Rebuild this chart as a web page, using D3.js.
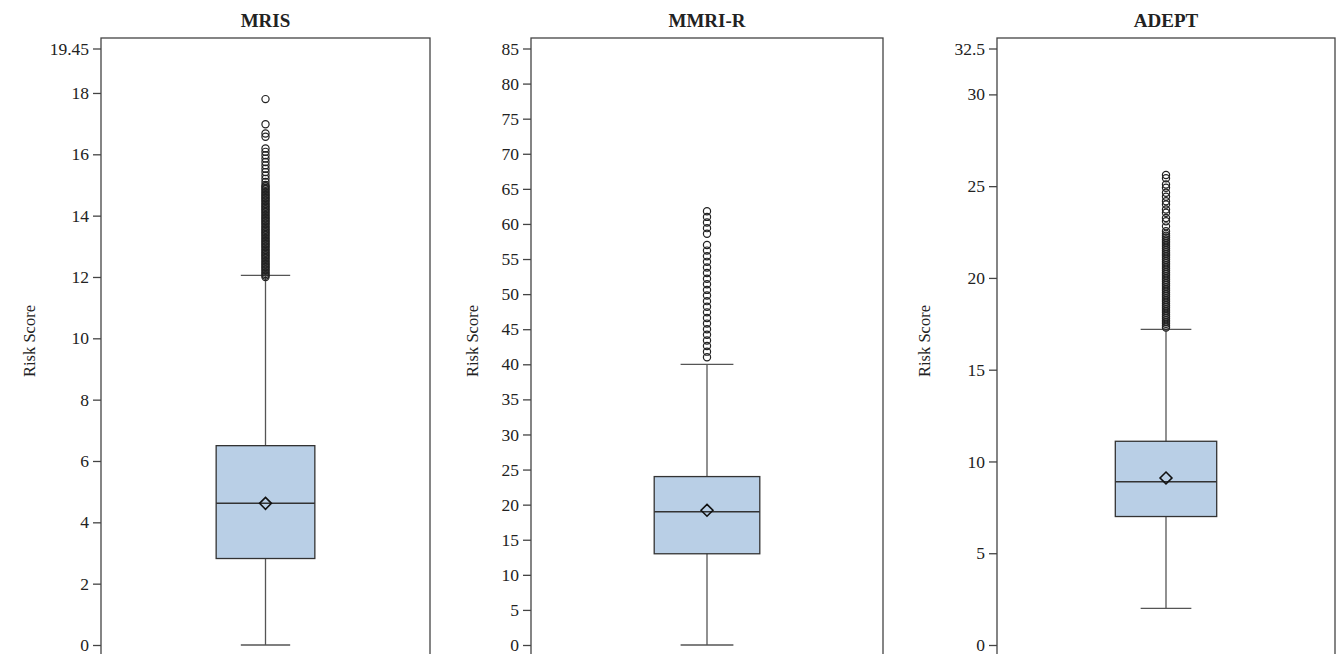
<!DOCTYPE html>
<html>
<head>
<meta charset="utf-8">
<script src="https://cdn.jsdelivr.net/npm/d3@7"></script>
<style>
  body { margin: 0; background: #fff; }
  text { font-family: "Liberation Serif", "Times New Roman", serif; fill: #222; }
</style>
</head>
<body>
<svg id="chart" width="1342" height="654"></svg>
<script>
// data
const panelNames  = ["MRIS", "MMRI-R", "ADEPT"];
const axisMax     = [19.45, 85, 32.5];
const tickValues  = [
  [0, 2, 4, 6, 8, 10, 12, 14, 16, 18, 19.45],
  [0, 5, 10, 15, 20, 25, 30, 35, 40, 45, 50, 55, 60, 65, 70, 75, 80, 85],
  [0, 5, 10, 15, 20, 25, 30, 32.5]
];
const whiskerLow  = [0, 0, 2];
const q1          = [2.82, 13, 7.0];
const medians     = [4.62, 19, 8.9];
const means       = [4.62, 19.2, 9.1];
const q3          = [6.5, 24, 11.1];
const whiskerHigh = [12.05, 40, 17.2];

const mrisOutliers = [
  12.0, 12.05, 12.1, 12.15, 12.2, 12.25, 12.3, 12.35, 12.4, 12.45,
  12.5, 12.55, 12.6, 12.65, 12.7, 12.75, 12.8, 12.85, 12.9, 12.95,
  13.0, 13.05, 13.1, 13.15, 13.2, 13.25, 13.3, 13.35, 13.4, 13.45,
  13.5, 13.55, 13.6, 13.65, 13.7, 13.75, 13.8, 13.85, 13.9, 13.95,
  14.0, 14.05, 14.1, 14.15, 14.2, 14.25, 14.3, 14.35, 14.4, 14.45,
  14.5, 14.55, 14.6, 14.65, 14.7, 14.75, 14.8, 14.85, 14.9, 14.95, 15.0,
  15.1, 15.2, 15.31, 15.42, 15.53, 15.64, 15.75, 15.86, 15.97, 16.08, 16.19,
  16.57, 16.68, 16.98, 17.8
];
const mmriOutliers = [
  41, 41.8, 42.6, 43.4, 44.2, 45, 45.8, 46.6, 47.4, 48.2, 49, 49.8, 50.6,
  51.4, 52.2, 53, 53.8, 54.6, 55.4, 56.2, 57,
  58.6, 59.4, 60.2, 61, 61.8
];
const adeptOutliers = [
  17.3, 17.4, 17.5, 17.6, 17.7, 17.8, 17.9, 18.0, 18.1, 18.2, 18.3, 18.4,
  18.5, 18.6, 18.7, 18.8, 18.9, 19.0, 19.1, 19.2, 19.3, 19.4, 19.5, 19.6,
  19.7, 19.8, 19.9, 20.0, 20.1, 20.2, 20.3, 20.4, 20.5, 20.6, 20.7, 20.8,
  20.9, 21.0, 21.1, 21.2, 21.3, 21.4, 21.5, 21.6, 21.7, 21.8, 21.9, 22.0,
  22.1, 22.2, 22.3, 22.4,
  22.54, 22.81, 23.09, 23.27, 23.55, 23.73, 24.0, 24.18, 24.42, 24.64,
  24.91, 25.09, 25.43, 25.61
];
const outliers = [mrisOutliers, mmriOutliers, adeptOutliers];

// layout (pixels); labelX is the baseline of the rotated axis title
const frames = [
  { left: 101, right: 430, labelX: 35 },
  { left: 531, right: 883, labelX: 478 },
  { left: 997, right: 1335, labelX: 930 }
];
const frameTop = 38, frameBottom = 670;
const yTop = 48.5, yBottom = 645;

const svg = d3.select("#chart");
const boxFill = "#b9cfe6", ink = "#333";

panelNames.forEach((name, i) => {
  const f = frames[i];
  const g = svg.append("g");

  const x = d3.scaleLinear().domain([0, 1]).range([f.left, f.right]);
  const y = d3.scaleLinear().domain([0, axisMax[i]]).range([yBottom, yTop]);

  // frame
  g.append("rect")
    .attr("x", f.left).attr("y", frameTop)
    .attr("width", f.right - f.left).attr("height", frameBottom - frameTop)
    .attr("fill", "none").attr("stroke", "#444").attr("stroke-width", 1.3);

  // y axis
  const axis = g.append("g")
    .attr("transform", `translate(${f.left},0)`)
    .call(d3.axisLeft(y).tickValues(tickValues[i]).tickSize(8).tickPadding(4)
      .tickFormat(d => String(d)));
  axis.select(".domain").remove();
  axis.selectAll(".tick line").attr("stroke", "#444").attr("stroke-width", 1.3);
  axis.selectAll(".tick text")
    .style("font-family", '"Liberation Serif", serif')
    .style("font-size", "17.5px").attr("fill", "#333");

  // title
  g.append("text")
    .attr("x", x(0.5)).attr("y", 27)
    .attr("text-anchor", "middle")
    .style("font-size", "19px").style("font-weight", "bold")
    .text(name);

  // y label
  g.append("text")
    .attr("transform", `translate(${f.labelX},341) rotate(-90)`)
    .attr("text-anchor", "middle")
    .style("font-size", "16.5px").attr("fill", "#333")
    .text("Risk Score");

  const cx = x(0.5);

  // whiskers
  g.append("line")
    .attr("x1", cx).attr("x2", cx)
    .attr("y1", y(whiskerLow[i])).attr("y2", y(whiskerHigh[i]))
    .attr("stroke", "#555").attr("stroke-width", 1.3);
  [whiskerLow[i], whiskerHigh[i]].forEach(v => {
    g.append("line")
      .attr("x1", x(0.425)).attr("x2", x(0.575))
      .attr("y1", y(v)).attr("y2", y(v))
      .attr("stroke", "#555").attr("stroke-width", 1.3);
  });

  // box
  g.append("rect")
    .attr("x", x(0.35)).attr("y", y(q3[i]))
    .attr("width", x(0.65) - x(0.35)).attr("height", y(q1[i]) - y(q3[i]))
    .attr("fill", boxFill).attr("stroke", ink).attr("stroke-width", 1.3);
  g.append("line")
    .attr("x1", x(0.35)).attr("x2", x(0.65))
    .attr("y1", y(medians[i])).attr("y2", y(medians[i]))
    .attr("stroke", ink).attr("stroke-width", 1.5);

  // mean diamond
  g.append("path")
    .attr("d", d3.symbol(d3.symbolDiamond2, 90)())
    .attr("transform", `translate(${cx},${y(means[i])})`)
    .attr("fill", "none").attr("stroke", "#111").attr("stroke-width", 1.6);

  // outliers
  g.append("g").selectAll("circle")
    .data(outliers[i])
    .enter().append("circle")
      .attr("cx", cx).attr("cy", d => y(d))
      .attr("r", 3.6)
      .attr("fill", "none").attr("stroke", "#222").attr("stroke-width", 1.2);
});
</script>
</body>
</html>
